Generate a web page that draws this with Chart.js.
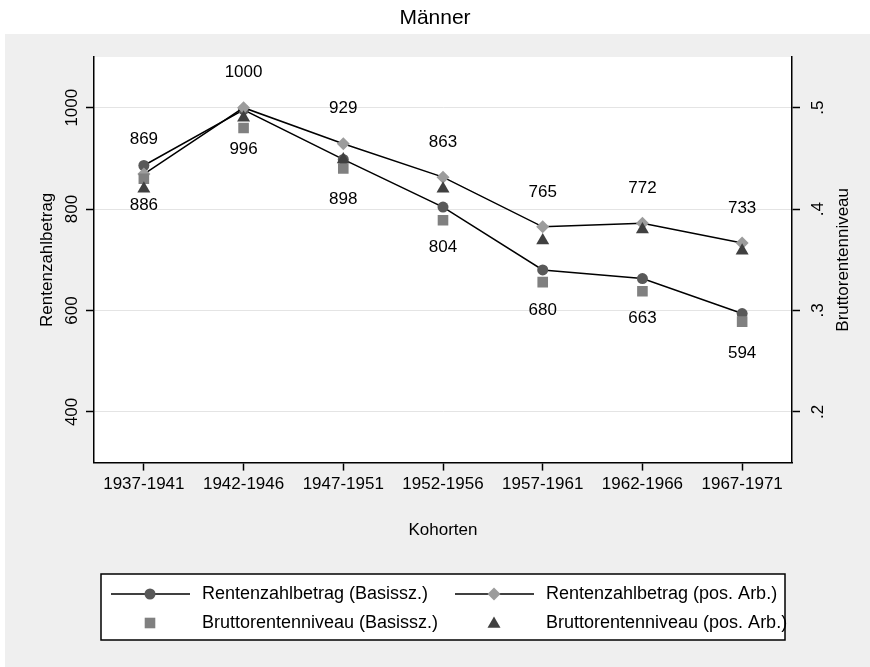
<!DOCTYPE html>
<html>
<head>
<meta charset="utf-8">
<script src="https://cdn.jsdelivr.net/npm/chart.js@4.4.1/dist/chart.umd.min.js"></script>
<style>
  html, body { margin: 0; padding: 0; background: #fff; }
  #wrap { width: 870px; height: 667px; }
</style>
</head>
<body>
<div id="wrap"><canvas id="chart" width="870" height="667"></canvas></div>
<script>
// data
const cohorts = ['1937-1941', '1942-1946', '1947-1951', '1952-1956', '1957-1961', '1962-1966', '1967-1971'];
const zahlBasis = [886, 996, 898, 804, 680, 663, 594];
const zahlPos = [869, 1000, 929, 863, 765, 772, 733];
const niveauBasis = [0.430, 0.480, 0.440, 0.389, 0.328, 0.319, 0.289];
const niveauPos = [0.420, 0.490, 0.449, 0.420, 0.369, 0.380, 0.359];
const leftTicks = [400, 600, 800, 1000];
const rightTicks = [0.2, 0.3, 0.4, 0.5];
const rightTickLabels = ['.2', '.3', '.4', '.5'];
const seriesNames = ['Rentenzahlbetrag (Basissz.)', 'Rentenzahlbetrag (pos. Arb.)',
                     'Bruttorentenniveau (Basissz.)', 'Bruttorentenniveau (pos. Arb.)'];
const titleText = 'Männer';
const xTitle = 'Kohorten';
const yTitle = 'Rentenzahlbetrag';
const y1Title = 'Bruttorentenniveau';

const FONT = '"Liberation Sans", Arial, sans-serif';
const colCircle = '#595959';
const colDiamond = '#9c9c9c';
const colSquare = '#808080';
const colTriangle = '#404040';

function rotText(ctx, text, x, y) {
    ctx.save();
    ctx.translate(x, y);
    ctx.rotate(-Math.PI / 2);
    ctx.fillText(text, 0, 0);
    ctx.restore();
}

const decor = {
    id: 'decor',
    beforeDraw(chart) {
        const { ctx, chartArea: a } = chart;
        ctx.save();
        ctx.fillStyle = '#fff';
        ctx.fillRect(0, 0, chart.width, chart.height);
        ctx.fillStyle = '#efefef';
        ctx.fillRect(5, 34, chart.width - 5, chart.height - 34);
        ctx.fillStyle = '#fff';
        ctx.fillRect(a.left, a.top, a.right - a.left, a.bottom - a.top);
        ctx.restore();
    },
    afterDraw(chart) {
        const { ctx, chartArea: a } = chart;
        const y = chart.scales.y, y1 = chart.scales.y1;
        ctx.save();
        ctx.fillStyle = '#000';
        ctx.textAlign = 'center';
        ctx.textBaseline = 'middle';

        ctx.font = '21px ' + FONT;
        ctx.fillText(titleText, chart.width / 2, 18);

        ctx.font = '17px ' + FONT;
        // rotated tick labels
        leftTicks.forEach(v => rotText(ctx, String(v), 72, y.getPixelForValue(v)));
        rightTicks.forEach((v, i) => rotText(ctx, rightTickLabels[i], 818, y1.getPixelForValue(v)));
        const midY = (a.top + a.bottom) / 2;
        rotText(ctx, yTitle, 47, midY);
        rotText(ctx, y1Title, 843, midY);
        ctx.fillText(xTitle, (a.left + a.right) / 2, 530);

        // value labels
        const mCircle = chart.getDatasetMeta(0).data;
        const mDiamond = chart.getDatasetMeta(1).data;
        zahlPos.forEach((v, i) => ctx.fillText(String(v), mDiamond[i].x, mDiamond[i].y - 35));
        zahlBasis.forEach((v, i) => ctx.fillText(String(v), mCircle[i].x, mCircle[i].y + 40));

        // legend
        ctx.fillStyle = '#fff';
        ctx.fillRect(101, 574, 684, 66);
        ctx.strokeStyle = '#000';
        ctx.lineWidth = 1.5;
        ctx.strokeRect(101, 574, 684, 66);
        ctx.font = '18px ' + FONT;
        const rows = [594, 623];
        const cols = [[111, 190, 150, 202], [455, 534, 494, 546]];
        const styles = [
            { pointStyle: 'circle', radius: 5.5, col: colCircle, line: true },
            { pointStyle: 'rectRot', radius: 6.5, col: colDiamond, line: true },
            { pointStyle: 'rect', radius: 7.5, col: colSquare, line: false },
            { pointStyle: 'triangle', radius: 7.5, col: colTriangle, line: false }
        ];
        styles.forEach((s, i) => {
            const c = cols[i % 2], ry = rows[Math.floor(i / 2)];
            if (s.line) {
                ctx.beginPath();
                ctx.moveTo(c[0], ry);
                ctx.lineTo(c[1], ry);
                ctx.strokeStyle = '#000';
                ctx.lineWidth = 1.5;
                ctx.stroke();
            }
            ctx.fillStyle = s.col;
            ctx.strokeStyle = s.col;
            Chart.helpers.drawPoint(ctx, { pointStyle: s.pointStyle, radius: s.radius, rotation: 0, borderWidth: 0 },
                c[2], s.pointStyle === 'triangle' ? ry + 1 : ry);
            ctx.fillStyle = '#000';
            ctx.textAlign = 'left';
            ctx.fillText(seriesNames[i], c[3], ry);
        });
        ctx.restore();
    }
};

const axisLine = { display: true, color: '#000', width: 1.5 };

new Chart(document.getElementById('chart'), {
    type: 'line',
    data: {
        labels: cohorts,
        datasets: [
            { label: seriesNames[0], data: zahlBasis, yAxisID: 'y', borderColor: '#000', borderWidth: 1.5,
              pointStyle: 'circle', pointRadius: 5.5, pointBackgroundColor: colCircle, pointBorderColor: colCircle,
              pointBorderWidth: 0, tension: 0, order: 3 },
            { label: seriesNames[1], data: zahlPos, yAxisID: 'y', borderColor: '#000', borderWidth: 1.5,
              pointStyle: 'rectRot', pointRadius: 6.5, pointBackgroundColor: colDiamond, pointBorderColor: colDiamond,
              pointBorderWidth: 0, tension: 0, order: 2 },
            { label: seriesNames[2], data: niveauBasis, yAxisID: 'y1', showLine: false,
              pointStyle: 'rect', pointRadius: 7.5, pointBackgroundColor: colSquare, pointBorderColor: colSquare,
              pointBorderWidth: 0, order: 1 },
            { label: seriesNames[3], data: niveauPos, yAxisID: 'y1', showLine: false,
              pointStyle: 'triangle', pointRadius: 7.5, pointBackgroundColor: colTriangle, pointBorderColor: colTriangle,
              pointBorderWidth: 0, order: 0 }
        ]
    },
    options: {
        responsive: false,
        animation: false,
        devicePixelRatio: 1,
        layout: { padding: { left: 86, right: 70, top: 57, bottom: 168 } },
        plugins: { legend: { display: false }, title: { display: false }, tooltip: { enabled: false } },
        scales: {
            x: {
                type: 'category',
                offset: true,
                border: axisLine,
                grid: { display: true, drawOnChartArea: false, tickColor: '#000', tickLength: 8, tickWidth: 1.5 },
                ticks: { color: '#000', padding: 4, maxRotation: 0, autoSkip: false, font: { family: FONT, size: 17 } }
            },
            y: {
                position: 'left',
                min: 300, max: 1100,
                afterBuildTicks: s => { s.ticks = leftTicks.map(v => ({ value: v })); },
                border: axisLine,
                grid: { color: '#e4e4e4', lineWidth: 1, tickColor: '#000', tickLength: 8, tickWidth: 1.5 },
                ticks: { display: false }
            },
            y1: {
                position: 'right',
                min: 0.15, max: 0.55,
                afterBuildTicks: s => { s.ticks = rightTicks.map(v => ({ value: v })); },
                border: axisLine,
                grid: { drawOnChartArea: false, tickColor: '#000', tickLength: 8, tickWidth: 1.5 },
                ticks: { display: false }
            }
        }
    },
    plugins: [decor]
});
</script>
</body>
</html>
